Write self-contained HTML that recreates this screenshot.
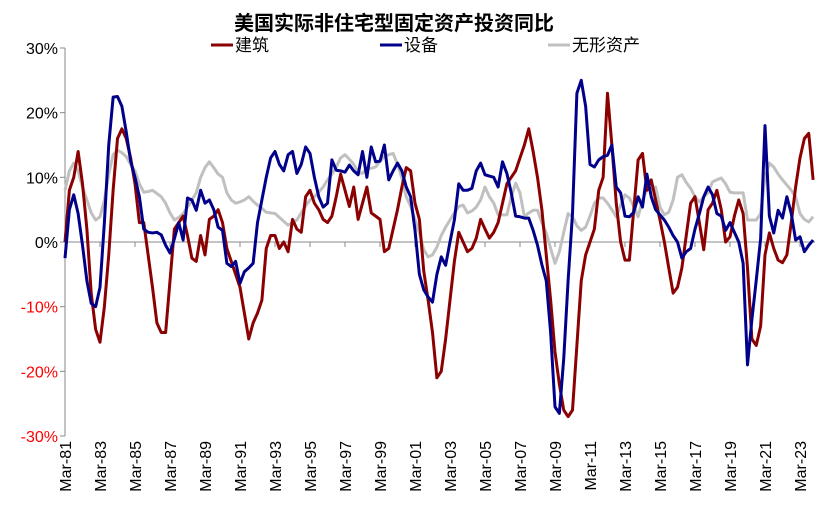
<!DOCTYPE html>
<html><head><meta charset="utf-8"><style>
body{margin:0;background:#fff;}
svg text{font-family:"Liberation Sans","Noto Sans CJK SC",sans-serif;}
</style></head><body>
<svg id="chart" width="830" height="511" xmlns="http://www.w3.org/2000/svg">
<text x="394" y="30" text-anchor="middle" font-size="20" font-weight="bold" fill="#000" style="font-family:'Noto Sans CJK SC',sans-serif">美国实际非住宅型固定资产投资同比</text>
<g>
<g><line x1="211" y1="45" x2="233" y2="45" stroke="#8b0000" stroke-width="3"/><text x="235" y="51" font-size="17" style="font-family:'Noto Sans CJK SC',sans-serif">建筑</text></g>
<g><line x1="380" y1="45" x2="402" y2="45" stroke="#00008b" stroke-width="3"/><text x="404" y="51" font-size="17" style="font-family:'Noto Sans CJK SC',sans-serif">设备</text></g>
<g><line x1="548" y1="45" x2="570" y2="45" stroke="#c0c0c0" stroke-width="3"/><text x="572" y="51" font-size="17" style="font-family:'Noto Sans CJK SC',sans-serif">无形资产</text></g>
</g>
<g id="axes"></g>
<g id="series"></g>
</svg>
<script>
const startYear = 1981;
const yTicks = [30,20,10,0,-10,-20,-30];
const xLabelYears = [81,83,85,87,89,91,93,95,97,99,1,3,5,7,9,11,13,15,17,19,21,23];
const construction = [0,8,10,14, 9,2,-8,-13.5, -15.5,-10,-2,8, 16,17.5,16,13, 9,3,3,-2, -7,-12.5,-14,-14, -6,2,3,4, 1,-2.5,-3,1, -2,3.5,4,5, 3,-1,-3,-5, -7,-11,-15,-12.5, -11,-9,-1,1, 1,-1,0,-1.5, 3.5,2,1.5,7, 8,6,5,3.5, 3,4,7,10.5, 8,5.5,8.5,3.5, 6,8.5,4.5,4, 3.5,-1.5,-1,2, 5,8.5,11.5,11, 6,3.5,-4.5,-9, -14,-21,-20,-15, -9,-3,1.5,0, -1.5,-1,0.6,3.5, 2,0.6,1.5,3, 6,9,10,11, 13,15,17.5,14, 10,5,-2,-9, -17,-22,-26,-27, -26,-16,-6,-2, 0,2,8,10, 23,15,6,0, -2.8,-2.8,5,12.7, 13.7,8,9.6,6.5, 3.4,0,-4,-7.9, -7,-4,1,6, 7,3,-1.2,5, 6,8,5,0, 0.8,4,6.5,4.4, -4,-15,-16,-13, -2,1.4,-1,-2.8, -3.2,-2,3,8.5, 13,16,16.8,9.6];
const equipment = [-2.5,5,7.3,4.4, -0.5,-6,-9.5,-10, -7,3,15,22.4, 22.5,21,17,12.5, 10,7,2,1.5, 1.4,1.5,1.1,-0.5, -1.7,0.5,3,0.3, 6.8,6.5,4.9,8, 6,6.5,5,2.3, 1.8,-3.3,-3.8,-3, -6.4,-4.6,-4,-3.3, 3,6.5,10,13, 14,12,11,13.5, 14,10.6,12,14.7, 13.7,10,7,5.4, 6,12.7,11.1,11, 10.8,11.9,11,10.4, 14,10,14.7,12.4, 12.5,15,9.6,11, 12.2,11,8.5,7, 1.8,-5,-7.4,-8.5, -9.3,-5,-2.3,-3.6, 0,3.4,9,8, 8,8.3,11,12.2, 10.4,10.2,10,8.5, 12.4,10.6,7.6,4, 3.9,3.7,3.7,1.8, -0.5,-3.5,-6,-14, -25.5,-26.5,-18,-5.9, 4.4,23,25,21, 12,11.6,12.7,13.2, 13.4,15,8.5,7.6, 4,3.9,4.6,7, 5.4,10.5,7,5, 4.2,3.4,2.3,1, 0,-2.5,-1.5,-1, 2,4.4,7,8.5, 7.3,4.4,4,1.8, 3,1.5,0,-3.3, -19,-12,-5.9,0.5, 18,4,1.4,4.9, 3.7,7,4.4,0.3, 0.8,-1.5,-0.5,0.3];
const intangibles = [8,11,12.2,11, 8.5,6.5,4.5,3.4, 3.9,6.5,10.5,13.5, 14.2,13.8,13.2,12, 11,9,7.7,7.8, 8,7.5,7,6, 4.5,3.4,3.8,4.4, 5.4,6.5,7.6,10, 11.5,12.4,11.5,10.5, 10,7.6,6.5,6, 6.2,6.5,7,6.3, 5.7,5.2,4.6,4.5, 4.4,3.8,3.2,2.6, 3,3.4,4.5,5.6, 6.5,7,7.7,8.5, 9.6,10.5,11.6,13, 13.5,12.8,12,10.8, 10.6,11.4,11.4,11.6, 12.5,13.2,13.5,13.7, 12,9.9,7,5.5, 3.5,1.4,-1.2,-2.3, -2,-0.8,1,2.3, 3.4,4.5,5.5,5.7, 4.5,4.8,5.4,6.5, 8.5,7,6,4.2, 4.2,4.2,7,9.1, 7.6,3.9,4.5,4.9, 4.9,3,1.4,-1, -3.3,-1.5,1.5,4.4, 3.9,2.5,1.8,2.3, 4,6,6.8,6.8, 6,5,3.9,5.7, 7.3,6.8,5.5,3.9, 6.5,8,8.2,8.5, 5.4,4.2,4.6,6.5, 10,10.4,9.2,8.3, 7,6.2,7,7.6, 9.3,9.6,9.9,9, 7.7,7.6,7.6,7.6, 3.4,3.4,3.4,4.4, 10,12.2,11.6,10.5, 9.6,8.8,8,7, 4.4,3.5,3.1,3.9];

const NS='http://www.w3.org/2000/svg';
const x0=65, qStep=4.375, yTop=48, yBot=436, vMax=30, vMin=-30;
function xq(i){return x0+i*qStep;}
function yv(v){return yTop+(vMax-v)/(vMax-vMin)*(yBot-yTop);}
function mk(tag,attrs,parent){const e=document.createElementNS(NS,tag);for(const k in attrs)e.setAttribute(k,attrs[k]);parent.appendChild(e);return e;}
const axes=document.getElementById('axes');
const yAxis=mk('line',{x1:x0,y1:yTop,x2:x0,y2:yBot,stroke:'#888','stroke-width':1},axes);


yTicks.forEach(t=>{
  const y=yv(t);
  const tk=mk('line',{x1:x0-5,y1:y,x2:x0,y2:y,stroke:'#888'},axes);
  
  
  const tx=mk('text',{x:x0-7,y:y+6,'text-anchor':'end','font-size':16,fill:t<0?'#ff0000':'#000'},axes);
  tx.textContent=t+'%';
  
  
});
const xAxis=mk('line',{x1:x0,y1:yv(0),x2:815,y2:yv(0),stroke:'#888','stroke-width':1},axes);


xLabelYears.forEach((yy,k)=>{
  const x=xq(k*8);
  const tk=mk('line',{x1:x,y1:yv(0),x2:x,y2:yv(0)+5,stroke:'#888'},axes);
  
  
  const tx=mk('text',{x:0,y:0,'text-anchor':'end','font-size':16,transform:`translate(${x+6},441) rotate(-90)`},axes);
  tx.textContent='Mar-'+String(yy).padStart(2,'0');
  
  
});
const series=document.getElementById('series');
function draw(arr,color,name){
  const d=arr.map((v,i)=>(i?'L':'M')+xq(i).toFixed(2)+' '+yv(v).toFixed(2)).join(' ');
  const p=mk('path',{d:d,fill:'none',stroke:color,'stroke-width':3,'stroke-linejoin':'round'},series);
  
  
}
draw(intangibles,'#c0c0c0','intangibles-line');
draw(construction,'#8b0000','construction-line');
draw(equipment,'#00008b','equipment-line');
</script>
</body></html>
